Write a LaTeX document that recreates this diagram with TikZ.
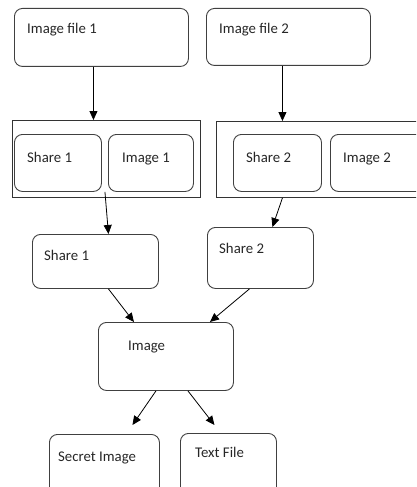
\documentclass[tikz,border=0pt]{standalone}
\usepackage{fontspec}
\setmainfont{Carlito}
\usetikzlibrary{arrows.meta,calc}

\tikzset{
  box/.style={draw=black!75, line width=0.9pt, rounded corners=8pt, anchor=north west,
    inner sep=0pt, minimum width=#1},
  group/.style={draw=black!80, line width=0.9pt, anchor=north west, inner sep=0pt, minimum width=#1},
  lbl/.style={anchor=base west, inner sep=0pt, text=black!85,
    font=\fontsize{14.8}{17}\selectfont},
  flow/.style={->, line width=0.8pt},
}

\begin{document}
\begin{tikzpicture}[x=1pt, y=-1pt, >={Triangle[length=9pt,width=8pt]}]

\clip (0,0) rectangle (416,487);

% top files
\node [box=174pt, minimum height=58pt] (file1) at (14,8) {};
\node [box=164pt, minimum height=57pt] (file2) at (206,8) {};

% groups with shares
\node [group=188pt, minimum height=77pt] (grp1) at (12,120) {};
\node [group=210pt, minimum height=76pt] (grp2) at (216,121) {};
\node [box=87pt, minimum height=57pt] (shareA) at (14,134) {};
\node [box=85pt, minimum height=57pt] (imgA) at (108,134) {};
\node [box=88pt, minimum height=57pt] (shareB) at (233,134) {};
\node [box=95pt, minimum height=57pt] (imgB) at (330,134) {};

% middle
\node [box=126pt, minimum height=54pt] (share1) at (32,234) {};
\node [box=106pt, minimum height=61pt] (share2) at (207,227) {};
\node [box=135pt, minimum height=68pt] (image) at (98,322) {};

% outputs
\node [box=110pt, minimum height=70pt] (secret) at (49,434) {};
\node [box=96pt, minimum height=70pt] (textf) at (180,433) {};

% labels
\node [lbl] at ($(file1.north west)+(13,26)$) {Image file 1};
\node [lbl] at ($(file2.north west)+(13,26)$) {Image file 2};
\node [lbl] at ($(shareA.north west)+(13,28)$) {Share 1};
\node [lbl] at ($(imgA.north west)+(14,28)$) {Image 1};
\node [lbl] at ($(shareB.north west)+(13,28)$) {Share 2};
\node [lbl] at ($(imgB.north west)+(13,28)$) {Image 2};
\node [lbl] at ($(share1.north west)+(12,26)$) {Share 1};
\node [lbl] at ($(share2.north west)+(12,26)$) {Share 2};
\node [lbl] at ($(image.north west)+(30,28)$) {Image};
\node [lbl] at ($(secret.north west)+(9,27)$) {Secret Image};
\node [lbl] at ($(textf.north west)+(15,24)$) {Text File};

% connectors
\draw [flow] ([xshift=-8pt]file1.south) -- ([xshift=-8pt]file1.south |- grp1.north);
\draw [flow] ([xshift=-6pt]file2.south) -- ([xshift=-6pt]file2.south |- grp2.north);
\draw [flow] ($(shareA.south east)!0.5!(imgA.south west)$) -- ([xshift=13pt]share1.north);
\draw [flow] ([xshift=5pt]shareB.south |- grp2.south) -- ([xshift=12pt]share2.north);
\draw [flow] ([xshift=13pt]share1.south) -- ([xshift=-32pt]image.north);
\draw [flow] ([xshift=-11pt]share2.south) -- ([xshift=44pt]image.north);
\draw [flow] ([xshift=-10pt]image.south) -- ([xshift=28pt,yshift=9pt]secret.north);
\draw [flow] ([xshift=22pt]image.south) -- ([xshift=-14pt,yshift=8pt]textf.north);

\end{tikzpicture}
\end{document}
